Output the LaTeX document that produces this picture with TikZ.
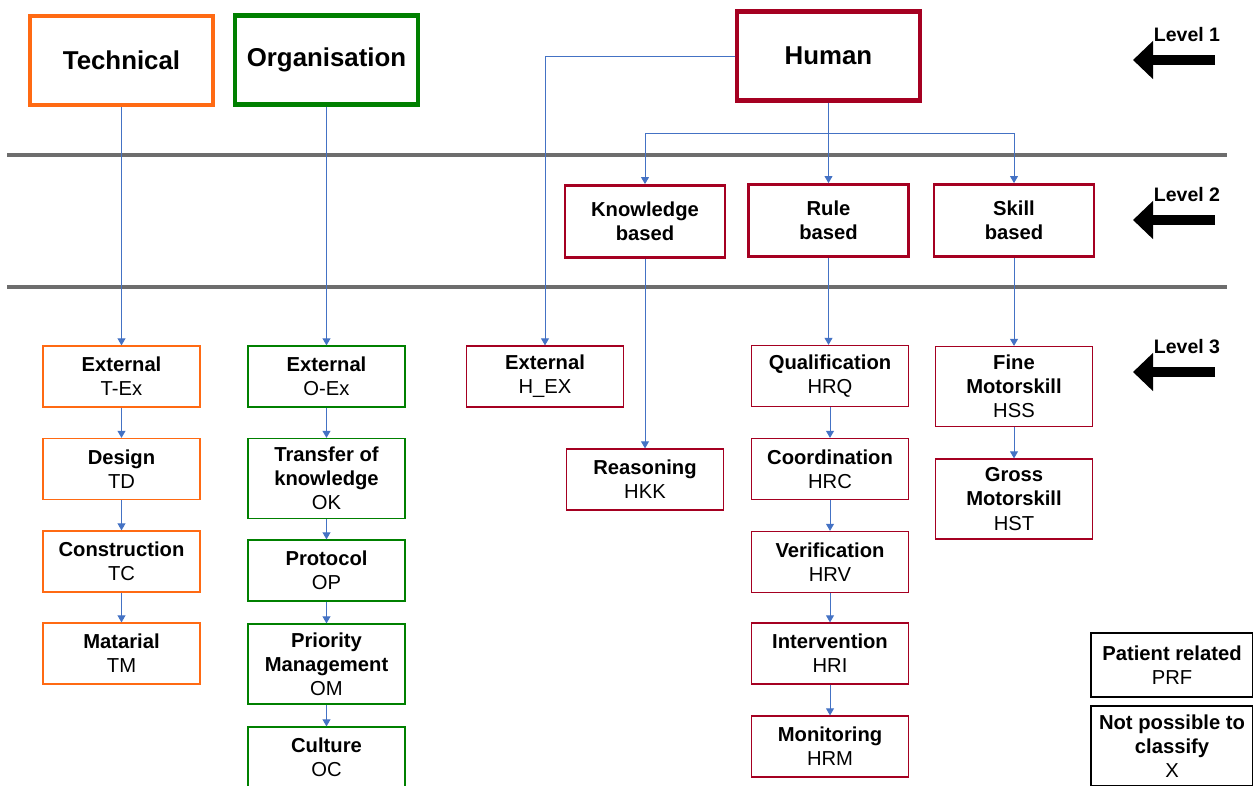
\documentclass[tikz,border=0pt]{standalone}
\usepackage{fontspec}
\setmainfont{Liberation Sans}
\usetikzlibrary{arrows.meta}
\definecolor{techorange}{HTML}{FF6A13}
\definecolor{orggreen}{HTML}{008000}
\definecolor{humred}{HTML}{A50021}
\definecolor{linkblue}{HTML}{4472C4}
\definecolor{sepgray}{HTML}{6D6D6D}

\begin{document}
\begin{tikzpicture}[x=0.02cm, y=-0.02cm, font=\fontsize{11.5}{13.7}\selectfont,
  topbox/.style={draw=#1, line width=2.3pt, minimum width=3.66cm, minimum height=1.78cm, font=\fontsize{14.7}{17}\selectfont\bfseries},
  midbox/.style={draw=humred, line width=1.6pt, align=center, minimum width=3.2cm, minimum height=1.44cm, font=\fontsize{11.5}{13.7}\selectfont\bfseries},
  box/.style={draw=#1, line width=0.7pt, align=center, inner sep=0pt, minimum width=3.14cm, minimum height=1.22cm},
  tallbox/.style={box=#1, minimum height=1.6cm},
  link/.style={linkblue, line width=0.55pt, -{Triangle[length=4pt,width=4.5pt]}},
  sepline/.style={sepgray, line width=2.8pt},
  levelarrow/.style={line width=0.2cm, -{Triangle[length=0.4cm,width=0.74cm]}}]
  \useasboundingbox (0,0) rectangle (1253,785);
  % separators between the levels
  \draw[sepline] (7,155) -- (1227,155);
  \draw[sepline] (7,287) -- (1227,287);
  % level 1
  \node[topbox=techorange] (tech) at (121.5,60.5) {Technical};
  \node[topbox=orggreen] (org) at (326.5,60) {Organisation};
  \node[topbox=humred] (hum) at (828.5,56) {Human};
  % level 2
  \node[midbox] (know) at (645,221.5) {Knowledge\\based};
  \node[midbox] (rule) at (828.5,220.5) {Rule\\based};
  \node[midbox] (skill) at (1014,220.5) {Skill\\based};
  % level 3, technical
  \node[box=techorange] (tex) at (121.5,376.5) {\textbf{External}\\T-Ex};
  \node[box=techorange] (td) at (121.5,469) {\textbf{Design}\\TD};
  \node[box=techorange] (tc) at (121.5,561.5) {\textbf{Construction}\\TC};
  \node[box=techorange] (tm) at (121.5,653.5) {\textbf{Matarial}\\TM};
  % level 3, organisation
  \node[box=orggreen] (oex) at (326.5,376.5) {\textbf{External}\\O-Ex};
  \node[tallbox=orggreen] (ok) at (326.5,478.5) {\textbf{Transfer of}\\\textbf{knowledge}\\OK};
  \node[box=orggreen] (op) at (326.5,570.5) {\textbf{Protocol}\\OP};
  \node[tallbox=orggreen] (om) at (326.5,664) {\textbf{Priority}\\\textbf{Management}\\OM};
  \node[box=orggreen] (oc) at (326.5,757.5) {\textbf{Culture}\\OC};
  % level 3, human
  \node[box=humred] (hex) at (545,376.5) {\textbf{External}\\H\_EX};
  \node[box=humred] (hkk) at (645,479.5) {\textbf{Reasoning}\\HKK};
  \node[box=humred] (hrq) at (830,376) {\textbf{Qualification}\\HRQ};
  \node[box=humred] (hrc) at (830,469) {\textbf{Coordination}\\HRC};
  \node[box=humred] (hrv) at (830,562) {\textbf{Verification}\\HRV};
  \node[box=humred] (hri) at (830,653.5) {\textbf{Intervention}\\HRI};
  \node[box=humred] (hrm) at (830,746.5) {\textbf{Monitoring}\\HRM};
  \node[tallbox=humred] (hss) at (1014,386.5) {\textbf{Fine}\\\textbf{Motorskill}\\HSS};
  \node[tallbox=humred] (hst) at (1014,499) {\textbf{Gross}\\\textbf{Motorskill}\\HST};
  % unclassified
  \node[box=black, minimum width=3.24cm, minimum height=1.28cm] (prf) at (1172,665) {\textbf{Patient related}\\PRF};
  \node[tallbox=black, minimum width=3.24cm] (nx) at (1172,746) {\textbf{Not possible to}\\\textbf{classify}\\X};
  % connectors
  \draw[link] (tech) -- (tex);
  \draw[link] (org) -- (oex);
  \draw[link] (hum) -- (rule);
  \coordinate (fork) at (828.5,133);
  \draw[link] (fork) -| (know);
  \draw[link] (fork) -| (skill);
  \draw[link] (hum.west) -| (hex.north);
  \draw[link] (know) -- (hkk);
  \draw[link] (rule.south) -- (rule.south |- hrq.north);
  \draw[link] (skill) -- (hss);
  \foreach \a/\b in {tex/td, td/tc, tc/tm, oex/ok, ok/op, op/om, om/oc,
                     hrq/hrc, hrc/hrv, hrv/hri, hri/hrm, hss/hst}
    \draw[link] (\a) -- (\b);
  % level markers
  \foreach \y/\k in {60/1, 220/2, 372/3} {
    \node[font=\fontsize{11.1}{13}\selectfont\bfseries] (lvl\k) at (1187,\y-25) {Level \k};
    \draw[levelarrow] (1215,\y) -- (1133,\y);
  }
\end{tikzpicture}
\end{document}
